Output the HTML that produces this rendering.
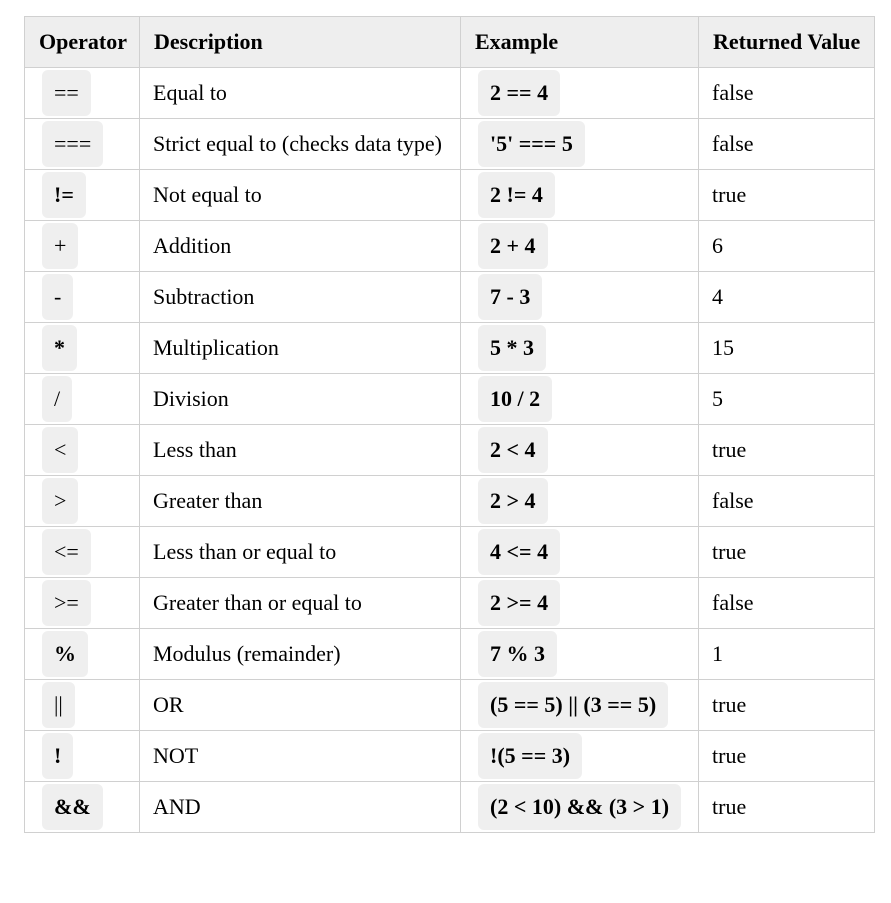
<!DOCTYPE html>
<html><head><style>
body{margin:0;background:#fff;width:891px;height:903px;font-family:"Liberation Serif","Times New Roman",serif;font-size:22px;color:#000}
table{position:absolute;left:24px;top:16px;border-collapse:collapse;table-layout:fixed;width:850px}
td,th{border:1px solid #d0d0d0;height:50px;padding:0 0 0 13px;text-align:left;vertical-align:middle;white-space:nowrap}
th{background:#eeeeee;font-weight:bold;padding-left:14px}
td.c{padding-left:17px}
code{display:inline-block;background:#efefef;border-radius:6px;padding:0 12px;height:46px;line-height:46px;font-family:"Liberation Serif","Times New Roman",serif;font-weight:bold;font-size:22px;vertical-align:middle}
code.n{font-weight:normal}
</style></head><body>
<table>
<colgroup><col style="width:115px"><col style="width:321px"><col style="width:238px"><col style="width:176px"></colgroup>
<tr><th>Operator</th><th>Description</th><th>Example</th><th>Returned Value</th></tr>
<tr><td class="c"><code class="n">==</code></td><td>Equal to</td><td class="c"><code>2 == 4</code></td><td>false</td></tr>
<tr><td class="c"><code class="n">===</code></td><td>Strict equal to (checks data type)</td><td class="c"><code>'5' === 5</code></td><td>false</td></tr>
<tr><td class="c"><code>!=</code></td><td>Not equal to</td><td class="c"><code>2 != 4</code></td><td>true</td></tr>
<tr><td class="c"><code class="n">+</code></td><td>Addition</td><td class="c"><code>2 + 4</code></td><td>6</td></tr>
<tr><td class="c"><code class="n">-</code></td><td>Subtraction</td><td class="c"><code>7 - 3</code></td><td>4</td></tr>
<tr><td class="c"><code>*</code></td><td>Multiplication</td><td class="c"><code>5 * 3</code></td><td>15</td></tr>
<tr><td class="c"><code class="n">/</code></td><td>Division</td><td class="c"><code>10 / 2</code></td><td>5</td></tr>
<tr><td class="c"><code class="n">&lt;</code></td><td>Less than</td><td class="c"><code>2 &lt; 4</code></td><td>true</td></tr>
<tr><td class="c"><code class="n">&gt;</code></td><td>Greater than</td><td class="c"><code>2 &gt; 4</code></td><td>false</td></tr>
<tr><td class="c"><code class="n">&lt;=</code></td><td>Less than or equal to</td><td class="c"><code>4 &lt;= 4</code></td><td>true</td></tr>
<tr><td class="c"><code class="n">&gt;=</code></td><td>Greater than or equal to</td><td class="c"><code>2 &gt;= 4</code></td><td>false</td></tr>
<tr><td class="c"><code>%</code></td><td>Modulus (remainder)</td><td class="c"><code>7 % 3</code></td><td>1</td></tr>
<tr><td class="c"><code class="n">||</code></td><td>OR</td><td class="c"><code>(5 == 5) || (3 == 5)</code></td><td>true</td></tr>
<tr><td class="c"><code>!</code></td><td>NOT</td><td class="c"><code>!(5 == 3)</code></td><td>true</td></tr>
<tr><td class="c"><code>&amp;&amp;</code></td><td>AND</td><td class="c"><code>(2 &lt; 10) &amp;&amp; (3 &gt; 1)</code></td><td>true</td></tr>
</table>
</body></html>
